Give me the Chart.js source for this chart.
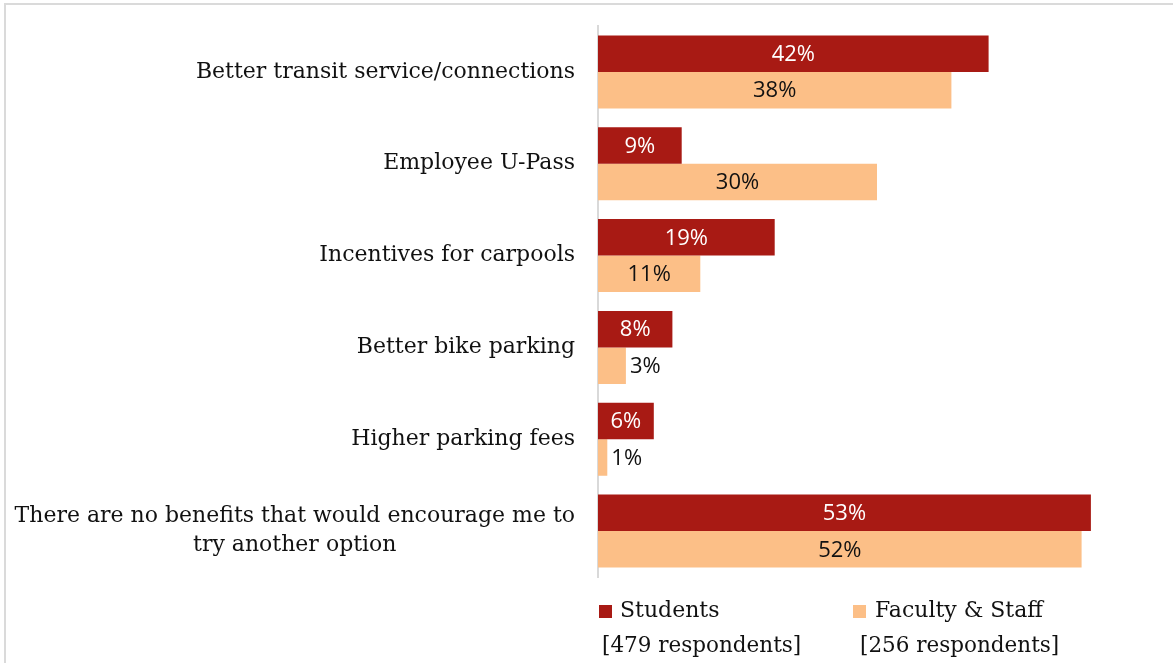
<!DOCTYPE html>
<html>
<head>
<meta charset="utf-8">
<script src="https://cdn.jsdelivr.net/npm/chart.js@4.4.1/dist/chart.umd.min.js"></script>
<style>
	html, body { margin: 0; padding: 0; background: #fff; }
	#marco {
		position: relative;
		width: 1173px;
		height: 663px;
		overflow: hidden;
	}
	#borde {
		position: absolute;
		left: 4px; top: 3px; right: -4px; bottom: -4px;
		border-top: 2px solid #dadada;
		border-left: 2px solid #dadada;
	}
	canvas { position: absolute; left: 0; top: 0; }
	.leyenda {
		position: absolute;
		font-family: "DejaVu Serif", serif;
		font-size: 22px;
		color: #111;
		white-space: nowrap;
		line-height: 24px;
	}
	.sub { font-size: 21.5px; }
	.cuadro {
		position: absolute;
		width: 13px;
		height: 13px;
	}
</style>
</head>
<body>
<div id="marco">
	<div id="borde"></div>
	<canvas id="chartBeneficios" width="1173" height="663"></canvas>
	<div class="cuadro" style="left:599px; top:605px; background:#a81a14;"></div>
	<div class="leyenda" style="left:620px; top:598px;">Students</div>
	<div class="leyenda sub" style="left:602px; top:633px;">[479 respondents]</div>
	<div class="cuadro" style="left:853px; top:605px; background:#fcbf87;"></div>
	<div class="leyenda" style="left:875px; top:598px;">Faculty &amp; Staff</div>
	<div class="leyenda sub" style="left:860px; top:633px;">[256 respondents]</div>
</div>

<script>
// Beneficios que animarían a probar otra opción de transporte
const categorias = [
	'Better transit service/connections',
	'Employee U-Pass',
	'Incentives for carpools',
	'Better bike parking',
	'Higher parking fees',
	['There are no benefits that would encourage me to', 'try another option']
];
const estudiantes = [42, 9, 19, 8, 6, 53];
const personal = [38, 30, 11, 3, 1, 52];

const colorEstudiantes = '#a81a14';
const colorPersonal = '#fcbf87';

// Etiquetas de categoría: derecha alineada, las líneas extra centradas bajo la primera
const etiquetasCategoria = {
	id: 'etiquetasCategoria',
	afterDraw(chart) {
		const ctx = chart.ctx;
		const escalaY = chart.scales.y;
		const derecha = chart.chartArea.left - 23;
		const altoLinea = 29;
		ctx.save();
		ctx.font = '22px "DejaVu Serif", serif';
		ctx.fillStyle = '#111';
		ctx.textBaseline = 'middle';
		ctx.textAlign = 'center';
		categorias.forEach((cat, i) => {
			const lineas = Array.isArray(cat) ? cat : [cat];
			const ancho = Math.max(...lineas.map(l => ctx.measureText(l).width));
			const centroX = derecha - ancho / 2;
			const y = escalaY.getPixelForTick(i);
			const inicio = y - (lineas.length - 1) * altoLinea / 2;
			lineas.forEach((l, j) => ctx.fillText(l, centroX, inicio + j * altoLinea));
		});
		ctx.restore();
	}
};

// Valores sobre las barras: centrados, o fuera si la barra es muy corta
const valoresBarras = {
	id: 'valoresBarras',
	afterDatasetsDraw(chart) {
		const ctx = chart.ctx;
		ctx.save();
		ctx.font = '22px "Open Sans", sans-serif';
		ctx.textBaseline = 'middle';
		chart.data.datasets.forEach((ds, di) => {
			const meta = chart.getDatasetMeta(di);
			meta.data.forEach((barra, i) => {
				const valor = ds.data[i];
				const texto = valor + '%';
				const anchoTexto = ctx.measureText(texto).width;
				const largo = barra.x - barra.base;
				if (largo > anchoTexto + 6) {
					ctx.textAlign = 'center';
					ctx.fillStyle = di === 0 ? '#ffffff' : '#111111';
					ctx.fillText(texto, (barra.x + barra.base) / 2, barra.y + 1);
				} else {
					ctx.textAlign = 'left';
					ctx.fillStyle = '#111111';
					ctx.fillText(texto, barra.x + 4, barra.y + 1);
				}
			});
		});
		ctx.restore();
	}
};

const ctx = document.getElementById('chartBeneficios').getContext('2d');

new Chart(ctx, {
	type: 'bar',
	data: {
		labels: categorias,
		datasets: [
			{
				label: 'Students',
				data: estudiantes,
				backgroundColor: colorEstudiantes,
				borderWidth: 0,
				categoryPercentage: 0.795,
				barPercentage: 1.0
			},
			{
				label: 'Faculty & Staff',
				data: personal,
				backgroundColor: colorPersonal,
				borderWidth: 0,
				categoryPercentage: 0.795,
				barPercentage: 1.0
			}
		]
	},
	options: {
		indexAxis: 'y',
		responsive: false,
		animation: false,
		layout: {
			padding: { left: 0, right: 17, top: 26, bottom: 86 }
		},
		plugins: {
			legend: { display: false },
			tooltip: { enabled: false }
		},
		scales: {
			x: {
				display: false,
				min: 0,
				max: 60
			},
			y: {
				grid: { display: false, drawTicks: false },
				border: { display: true, color: '#d9d9d9', width: 2 },
				ticks: { display: false },
				afterFit(scale) {
					scale.width = 598;
				}
			}
		}
	},
	plugins: [etiquetasCategoria, valoresBarras]
});
</script>
</body>
</html>
